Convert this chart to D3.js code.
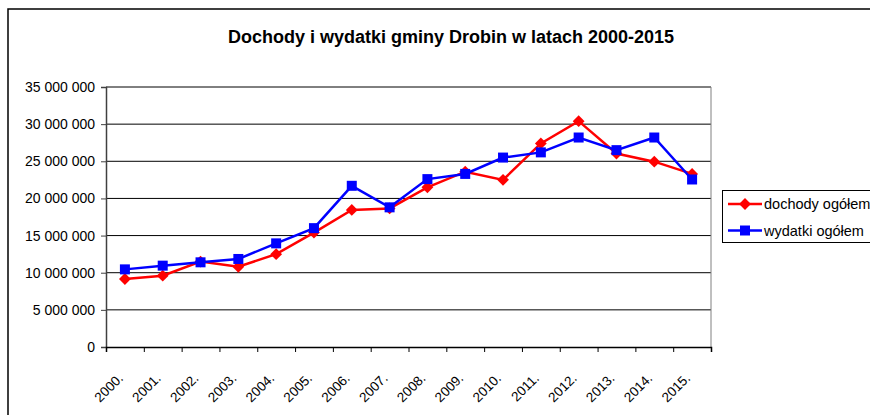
<!DOCTYPE html>
<html>
<head>
<meta charset="utf-8">
<script src="https://cdn.jsdelivr.net/npm/d3@7"></script>
<style>
body { margin: 0; background: #fff; }
text { font-family: "Liberation Sans", Arial, sans-serif; }
</style>
</head>
<body>
<svg id="chart" width="870" height="415"></svg>
<script>
var years = ["2000.", "2001.", "2002.", "2003.", "2004.", "2005.", "2006.", "2007.",
             "2008.", "2009.", "2010.", "2011.", "2012.", "2013.", "2014.", "2015."];
var dochody = [9150000, 9600000, 11500000, 10800000, 12500000, 15400000, 18450000, 18650000,
               21500000, 23600000, 22500000, 27400000, 30400000, 26050000, 24950000, 23300000];
var wydatki = [10450000, 10950000, 11400000, 11850000, 13950000, 16000000, 21700000, 18800000,
               22600000, 23300000, 25500000, 26200000, 28200000, 26500000, 28200000, 22550000];
var yTicks = [0, 5000000, 10000000, 15000000, 20000000, 25000000, 30000000, 35000000];
var seriesNames = ["dochody ogółem", "wydatki ogółem"];

var svg = d3.select("#chart");
var plotL = 106, plotR = 711, plotT = 87, plotB = 347;

// outer chart border (cropped on right / bottom)
svg.append("path")
    .attr("d", "M8,415 L8,9 L872,9")
    .attr("fill", "none")
    .attr("stroke", "#000")
    .attr("stroke-width", 1.5);

svg.append("text")
    .attr("x", 451).attr("y", 43)
    .attr("text-anchor", "middle")
    .attr("font-size", 18).attr("font-weight", "bold")
    .text("Dochody i wydatki gminy Drobin w latach 2000-2015");

var x = d3.scaleBand().domain(years).range([plotL, plotR]).padding(0);
var y = d3.scaleLinear().domain([0, 35000000]).range([plotB, plotT]);

var fmt = function(v){ return d3.format(",")(v).replace(/,/g, " "); };

// gridlines
svg.append("g").selectAll("line")
    .data(yTicks.slice(1))
    .enter().append("line")
    .attr("x1", plotL).attr("x2", plotR)
    .attr("y1", function(d){ return y(d); }).attr("y2", function(d){ return y(d); })
    .attr("stroke", "#000").attr("stroke-width", 1);

// right plot border
svg.append("line")
    .attr("x1", plotR).attr("x2", plotR).attr("y1", plotT).attr("y2", plotB)
    .attr("stroke", "#808080");

// y axis
var yAxis = svg.append("g")
    .attr("transform", "translate(" + plotL + ",0)")
    .call(d3.axisLeft(y).tickValues(yTicks).tickSize(5).tickPadding(6).tickFormat(fmt));
yAxis.select(".domain").attr("stroke", "#404040").attr("stroke-width", 1.5);
yAxis.selectAll(".tick line").attr("stroke", "#404040");
yAxis.selectAll("text").attr("font-size", 14).attr("fill", "#000")
    .attr("font-family", "Liberation Sans, Arial, sans-serif");

// x axis: ticks at category boundaries
var xb = d3.scaleLinear().domain([0, years.length]).range([plotL, plotR]);
var xAxis = svg.append("g")
    .attr("transform", "translate(0," + plotB + ")")
    .call(d3.axisBottom(xb).tickValues(d3.range(years.length + 1))
        .tickSize(5).tickFormat(""));
xAxis.select(".domain").attr("stroke", "#000").attr("stroke-width", 1.5);
xAxis.selectAll(".tick line").attr("stroke", "#000");

svg.append("g").selectAll("text")
    .data(years)
    .enter().append("text")
    .attr("transform", function(d){
        return "translate(" + (x(d) + x.bandwidth() / 2 - 1) + "," + 379 + ") rotate(-45)";
    })
    .attr("text-anchor", "end")
    .attr("font-size", 13.5)
    .text(function(d){ return d; });

var cx = function(d, i){ return x(years[i]) + x.bandwidth() / 2; };
var line = d3.line().x(cx).y(function(d){ return y(d); });

var diamond = d3.symbol().type(d3.symbolSquare).size(70);

function drawSeries(values, color, marker){
    svg.append("path")
        .datum(values)
        .attr("d", line)
        .attr("fill", "none")
        .attr("stroke", color)
        .attr("stroke-width", 2.5);
    var g = svg.append("g");
    if (marker === "diamond"){
        g.selectAll("path").data(values).enter().append("path")
            .attr("d", diamond)
            .attr("transform", function(d, i){ return "translate(" + cx(d, i) + "," + y(d) + ") rotate(45)"; })
            .attr("fill", color);
    } else {
        g.selectAll("rect").data(values).enter().append("rect")
            .attr("x", function(d, i){ return cx(d, i) - 5; })
            .attr("y", function(d){ return y(d) - 5; })
            .attr("width", 10).attr("height", 10)
            .attr("fill", color);
    }
}

drawSeries(dochody, "#ff0000", "diamond");
drawSeries(wydatki, "#0000ff", "square");

// legend
var legend = svg.append("g");
legend.append("rect")
    .attr("x", 722.5).attr("y", 190.5).attr("width", 170).attr("height", 52)
    .attr("fill", "#fff").attr("stroke", "#000");
[["#ff0000", "diamond", 204], ["#0000ff", "square", 230.5]].forEach(function(s, i){
    legend.append("line")
        .attr("x1", 728).attr("x2", 762).attr("y1", s[2]).attr("y2", s[2])
        .attr("stroke", s[0]).attr("stroke-width", 2.5);
    if (s[1] === "diamond"){
        legend.append("path").attr("d", diamond)
            .attr("transform", "translate(745," + s[2] + ") rotate(45)").attr("fill", s[0]);
    } else {
        legend.append("rect").attr("x", 740).attr("y", s[2] - 5)
            .attr("width", 10).attr("height", 10).attr("fill", s[0]);
    }
    legend.append("text")
        .attr("x", 764).attr("y", s[2] + 5)
        .attr("font-size", 14.5)
        .text(seriesNames[i]);
});
</script>
</body>
</html>
